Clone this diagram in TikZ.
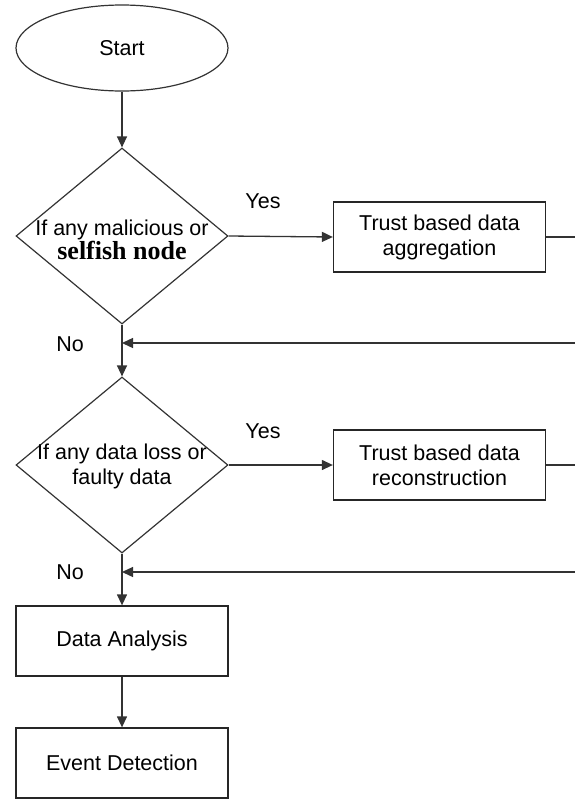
\documentclass[tikz,border=0pt]{standalone}
\usepackage{fontspec}
\setmainfont{Liberation Sans}
\newfontfamily\serifbold{Liberation Serif}
\usetikzlibrary{shapes.geometric,arrows.meta}

\tikzset{
  every node/.style={font=\fontsize{21.5}{25}\selectfont, text=black},
  flow/.style={draw=black!80, line width=1.3pt},
  arr/.style={flow, -{Triangle[length=11pt,width=10pt]}},
  terminal/.style={ellipse, draw=black!80, line width=1.2pt, minimum width=212pt, minimum height=86pt, inner sep=0pt},
  decision/.style={diamond, draw=black!80, line width=1.2pt, minimum width=212pt, minimum height=176pt, inner sep=0pt},
  process/.style={rectangle, draw=black!85, line width=1.3pt, minimum width=212pt, minimum height=70pt, inner sep=0pt, align=center},
  caption/.style={align=center, inner sep=0pt},
  tag/.style={inner sep=0pt}
}

\begin{document}
\begin{tikzpicture}[x=1pt, y=-1pt]
\useasboundingbox (0,0) rectangle (575,801);

% main column
\node[terminal] (start) at (122,48) {Start};
\node[decision] (d1) at (122,236) {};
\node[caption] (d1text) at (122,240) {If any malicious or\\[-1pt]{\serifbold\bfseries\fontsize{26}{25}\selectfont selfish node}};
\node[decision] (d2) at (122,465) {};
\node[caption] (d2text) at (122,466) {If any data loss or\\faulty data};
\node[process] (analysis) at (122,641) {Data Analysis};
\node[process] (event) at (122,763) {Event Detection};

% side branches
\node[process] (agg) at (439.5,237) {Trust based data\\aggregation};
\node[process] (rec) at (439.5,465) {Trust based data\\reconstruction};

% branch labels
\node[tag] (yes1) at (263,201) {Yes};
\node[tag] (yes2) at (263,431) {Yes};
\node[tag] (no1) at (70,344) {No};
\node[tag] (no2) at (70,572) {No};

% loose ends at the right border and join points on the main column
\coordinate (aggout) at (575,237);
\coordinate (recout) at (575,465);
\coordinate (back1) at (575,343);
\coordinate (back2) at (575,572);
\coordinate (join1) at (122,343);
\coordinate (join2) at (122,572);

% connectors
\draw[arr] (start) -- (d1);
\draw[arr] (d1) -- (d2);
\draw[arr] (d2) -- (analysis);
\draw[arr] (analysis) -- (event);
\draw[arr] (d1.east) -- (agg.west);
\draw[arr] (d2.east) -- (rec.west);
\draw[flow] (agg.east) -- (aggout);
\draw[flow] (rec.east) -- (recout);
\draw[arr] (back1) -- (join1);
\draw[arr] (back2) -- (join2);
\end{tikzpicture}
\end{document}
